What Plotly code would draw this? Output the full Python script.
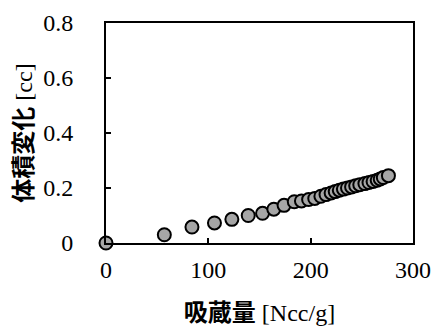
import plotly.graph_objects as go

# 吸蔵量 [Ncc/g]
absorption = [0, 57, 84, 106, 123, 139, 153, 164, 174, 184, 191, 198, 204, 210, 215,
              220, 224, 228, 232, 236, 240, 244, 248, 253, 257, 261, 265, 268, 271, 276]
# 体積変化 [cc]
volume_change = [0, 0.03, 0.058, 0.073, 0.086, 0.10, 0.108, 0.123, 0.137, 0.150, 0.153,
                 0.158, 0.162, 0.170, 0.176, 0.182, 0.187, 0.192, 0.196, 0.200, 0.204,
                 0.208, 0.212, 0.216, 0.220, 0.224, 0.228, 0.233, 0.238, 0.245]

x_ticks = [0, 100, 200, 300]
y_ticks = [0, 0.2, 0.4, 0.6, 0.8]
y_tick_text = ["0", "0.2", "0.4", "0.6", "0.8"]

FONT = "Liberation Serif, Noto Sans CJK JP"
TICKFONT = "Liberation Serif"

fig = go.Figure()
fig.add_trace(go.Scatter(
    x=absorption, y=volume_change, mode="markers",
    marker=dict(size=13, color="#a6a6a6", line=dict(color="black", width=2)),
    cliponaxis=False, showlegend=False,
))

fig.update_layout(
    width=435, height=329,
    margin=dict(l=106, r=22, t=23, b=86),
    paper_bgcolor="white", plot_bgcolor="white",
    font=dict(family=FONT, size=24, color="black"),
)
fig.update_xaxes(
    range=[0, 300], tickvals=x_ticks, ticks="inside", ticklen=5, tickwidth=1.5,
    tickcolor="black", showline=True, linewidth=2, linecolor="black", mirror=True,
    showgrid=False, zeroline=False, ticklabelstandoff=4, automargin=False,
    tickfont=dict(family=TICKFONT, size=24),
    title=dict(text="<b>吸蔵量</b> [Ncc/g]", font=dict(family=FONT, size=24), standoff=22),
)
fig.update_yaxes(
    range=[0, 0.8], tickvals=y_ticks, ticktext=y_tick_text, ticks="inside", ticklen=5,
    tickwidth=1.5, tickcolor="black", showline=True, linewidth=2, linecolor="black",
    mirror=True, showgrid=False, zeroline=False, ticklabelstandoff=26, automargin=False,
    tickfont=dict(family=TICKFONT, size=24),
    title=dict(text="<b>体積変化</b> [cc]", font=dict(family=FONT, size=24), standoff=4),
)

fig.write_html("out.html", config={"displayModeBar": False},
               post_script="document.body.style.margin='0';")
